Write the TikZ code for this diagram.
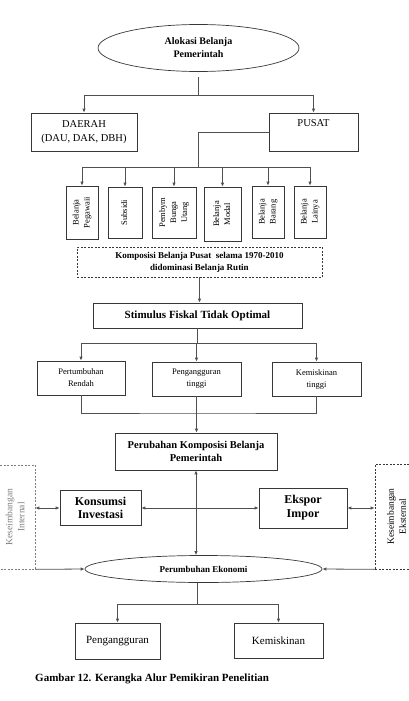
\documentclass[tikz,border=0pt]{standalone}
\usepackage{fontspec}
\setmainfont{Liberation Serif}
\usetikzlibrary{shapes.geometric,arrows.meta}
\definecolor{linegray}{RGB}{80,80,80}
\definecolor{boxedge}{RGB}{55,55,55}
\definecolor{fadedtext}{RGB}{125,125,125}
\newcommand{\rotlabel}[1]{\rotatebox{90}{\begin{tabular}{@{}c@{}}#1\end{tabular}}}

\tikzset{
  box/.style={draw=boxedge, line width=0.7pt, inner sep=1pt, align=center},
  oval/.style={draw=boxedge, line width=0.7pt, ellipse, inner sep=0pt, align=center},
  dashbox/.style={box, dash pattern=on 2pt off 1.5pt},
  conn/.style={draw=linegray, line width=0.8pt},
  arr/.style={conn, -{Latex[length=4pt,width=3.5pt]}},
  dblarr/.style={conn, {Latex[length=4pt,width=3.5pt]}-{Latex[length=4pt,width=3.5pt]}},
}

\begin{document}
\begin{tikzpicture}[x=1pt, y=-1pt]
    \useasboundingbox (0,0) rectangle (409,701);
    \clip (0,0) rectangle (409,701);
    % Alokasi
    \node[oval, minimum width=201pt, minimum height=47pt, font=\fontsize{10}{13}\selectfont\bfseries] (alokasi) at (198.5,48) {Alokasi Belanja\\Pemerintah};
    \node[box, minimum width=106pt, minimum height=38pt, font=\fontsize{10.5}{14}\selectfont] (daerah) at (84,132) {DAERAH\\(DAU, DAK, DBH)};
    \node[box, minimum width=89pt, minimum height=38pt, font=\fontsize{10.5}{14}\selectfont] (pusat) at (313.5,132) {PUSAT\\\strut};
    % Belanja pusat
    \node[box, minimum width=32pt, minimum height=53pt, font=\fontsize{8.5}{11}\selectfont] (bpegawai) at (82,212.5) {\rotlabel{Belanja\\Pegawaii}};
    \node[box, minimum width=34pt, minimum height=51pt, font=\fontsize{8.5}{11}\selectfont] (bsubsidi) at (125,212.5) {\rotlabel{Subsidi}};
    \node[box, minimum width=44pt, minimum height=51pt, font=\fontsize{8.5}{11}\selectfont] (bbunga) at (174,212.5) {\rotlabel{Pembym\\Bunga\\Utang}};
    \node[box, minimum width=37pt, minimum height=54pt, font=\fontsize{8.5}{11}\selectfont] (bmodal) at (222.5,214) {\rotlabel{Belanja\\Modal}};
    \node[box, minimum width=32pt, minimum height=52pt, font=\fontsize{8.5}{11}\selectfont] (bbarang) at (268,212) {\rotlabel{Belanja\\Barang}};
    \node[box, minimum width=32pt, minimum height=52pt, font=\fontsize{8.5}{11}\selectfont] (blainya) at (310,212) {\rotlabel{Belanja\\Lainya}};
    \node[dashbox, minimum width=245pt, minimum height=30pt, font=\fontsize{9}{12}\selectfont\bfseries] (komposisi) at (199.5,262) {Komposisi Belanja Pusat\ \ selama 1970-2010\\didominasi Belanja Rutin};
    \node[box, minimum width=209pt, minimum height=25pt, font=\fontsize{11}{13}\selectfont\bfseries] (stimulus) at (197.5,315.5) {Stimulus Fiskal Tidak Optimal};
    % Dampak
    \node[box, minimum width=88pt, minimum height=34pt, font=\fontsize{8.5}{12}\selectfont] (prendah) at (81,378) {Pertumbuhan\\Rendah};
    \node[box, minimum width=89pt, minimum height=34pt, font=\fontsize{8.5}{12}\selectfont] (ptinggi) at (196.5,379) {Pengangguran\\tinggi};
    \node[box, minimum width=89pt, minimum height=34pt, font=\fontsize{8.5}{12}\selectfont] (ktinggi) at (316.5,379) {Kemiskinan\\tinggi};
    \node[box, minimum width=162pt, minimum height=37pt, font=\fontsize{10.5}{13.5}\selectfont\bfseries] (perubahan) at (196,451.5) {Perubahan Komposisi Belanja\\Pemerintah};
    % Keseimbangan
    \node[box, minimum width=81pt, minimum height=35pt, font=\fontsize{12}{13}\selectfont\bfseries] (konsumsi) at (100.5,508) {Konsumsi\\Investasi};
    \node[box, minimum width=88pt, minimum height=40pt, font=\fontsize{12}{14}\selectfont\bfseries] (ekspor) at (303,508) {Ekspor\\Impor};
    \node[dashbox, draw=fadedtext, text=fadedtext, minimum width=38pt, minimum height=104pt, font=\fontsize{9.5}{12}\selectfont] (internal) at (16,517) {\rotlabel{Keseimbangan\\Internal}};
    \node[dashbox, minimum width=45pt, minimum height=105pt, font=\fontsize{9.5}{12}\selectfont] (eksternal) at (397.5,516.5) {\rotlabel{Keseimbangan\\Eksternal}};
    \node[oval, minimum width=237pt, minimum height=27pt, font=\fontsize{9}{11}\selectfont\bfseries] (pe) at (203.5,569) {Perumbuhan Ekonomi};
    \node[box, minimum width=85pt, minimum height=36pt, font=\fontsize{11}{13}\selectfont] (pengangguran) at (117.5,641) {Pengangguran};
    \node[box, minimum width=89pt, minimum height=35pt, font=\fontsize{11}{13}\selectfont] (kemiskinan) at (278.5,640.5) {Kemiskinan};
    % Caption
    \node[anchor=west, inner sep=0pt, font=\fontsize{11}{13}\selectfont\bfseries] (caption) at (35,679) {Gambar 12. Kerangka Alur Pemikiran Penelitian};

    % Connectors
    \coordinate (split1) at (198.5,95);
    \draw[conn, shorten <=5pt] (alokasi.south) -- (split1);
    \draw[arr] (split1) -| (daerah.north);
    \draw[arr] (split1) -| (pusat.north);
    \coordinate (split2) at (198,167);
    \draw[conn] (pusat.west) -| (split2);
    \draw[arr] (split2) -| (bpegawai.north);
    \draw[arr] (split2) -| (bsubsidi.north);
    \draw[arr] (split2) -| (bbunga.north);
    \draw[arr] (split2) -| (bmodal.north);
    \draw[arr] (split2) -| (bbarang.north);
    \draw[arr] (split2) -| (blainya.north);
    \draw[arr] (komposisi.south) -- (komposisi.south |- stimulus.north);
    \coordinate (split3) at (197.5,343);
    \draw[conn] (stimulus.south) -- (split3);
    \draw[arr] (split3) -| (prendah.north);
    \draw[arr] (split3) -| (ptinggi.north);
    \draw[arr] (split3) -| (ktinggi.north);
    \coordinate (merge1) at (196.5,413);
    \draw[conn] (prendah.south) |- (merge1) -| (ktinggi.south);
    \draw[arr] (ptinggi.south) -- (ptinggi.south |- perubahan.north);
    \draw[dblarr] (perubahan.south) -- (perubahan.south |- pe.north);
    \draw[dblarr] (konsumsi.east) -- (konsumsi.east -| ekspor.west);
    \draw[dblarr] (konsumsi.west) -- (konsumsi.west -| internal.east);
    \draw[dblarr] (ekspor.east) -- (ekspor.east -| eksternal.west);
    \draw[arr] (internal.south east) -- (pe.west);
    \draw[arr] (eksternal.south west) -- (pe.east);
    \coordinate (split4) at (197,604);
    \draw[conn] (split4 |- pe.south) -- (split4);
    \draw[arr] (split4) -| (pengangguran.north);
    \draw[arr] (split4) -| (kemiskinan.north);
\end{tikzpicture}
\end{document}
